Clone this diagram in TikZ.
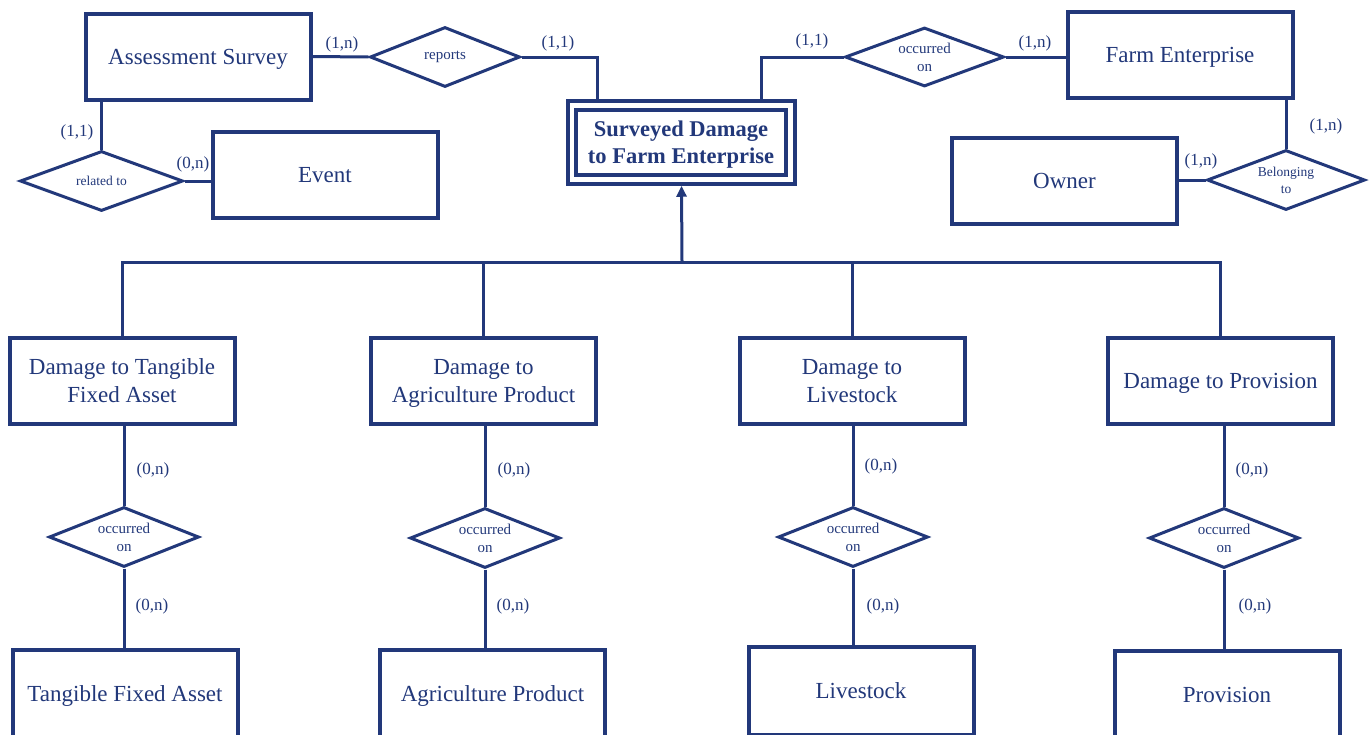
\documentclass[tikz,border=0pt]{standalone}
\usepackage{fontspec}
\setmainfont{Liberation Serif}
\usetikzlibrary{shapes.geometric,arrows.meta}
\definecolor{navy}{RGB}{34,56,122}
\tikzset{
  entity/.style={draw=navy, line width=4pt, text=navy, fill=white,
    minimum width=225pt, minimum height=86pt, inner sep=0pt, align=center,
    text depth=-3pt, font=\fontsize{23}{28}\selectfont},
  relation/.style={draw=navy, line width=3pt, text=navy, fill=white,
    shape=diamond, shape aspect=2.5, minimum width=150pt, minimum height=60pt,
    inner sep=0pt, align=center, font=\fontsize{15}{18}\selectfont},
  smallrelation/.style={relation, font=\fontsize{13.5}{17}\selectfont},
  link/.style={draw=navy, line width=3pt},
  card/.style={text=navy, inner sep=0pt, font=\fontsize{17}{20}\selectfont}
}
\begin{document}
\begin{tikzpicture}[x=1pt,y=-1pt]
\useasboundingbox (0,0) rectangle (1372,734);
\clip (0,0) rectangle (1372,734);

% upper entities
\node[entity] (as)  at (198,56.5) {Assessment Survey};
\node[entity] (ev)  at (325,174.5) {Event};
\node[entity] (fe)  at (1180,55) {Farm Enterprise};
\node[entity] (ow)  at (1064.5,181) {Owner};

% weak entity with double border
\node[draw=navy, line width=3.5pt, fill=white, minimum width=227pt,
      minimum height=83pt, inner sep=0pt] (sdfe) at (681.5,142.5) {};
\node[draw=navy, line width=4pt, minimum width=210pt, minimum height=65pt,
      inner sep=0pt, text=navy, align=center, text depth=-3pt,
      font=\fontsize{22.5}{27}\selectfont\bfseries] (sdfein) at (681,142.5)
      {Surveyed Damage\\to Farm Enterprise};

% upper relationships
\node[relation] (rep) at (445,57)  {reports};
\node[relation, minimum height=59pt, minimum width=159pt] (occ) at (924.5,57) {occurred\\on};
\node[smallrelation, minimum width=163pt] (rel) at (101.5,181) {related to};
\node[smallrelation, minimum width=158pt] (bel) at (1286,180) {Belonging\\to};

% upper links
\draw[link] (as.east) -- (rep.west);
\draw[link] (rep.east) -| ([xshift=-84.5pt]sdfe.north);
\draw[link] ([xshift=79.5pt]sdfe.north) |- (occ.west);
\draw[link] (occ.east) -- (fe.west |- occ.east);
\draw[link] (rel.north) -- (rel.north |- as.south);
\draw[link] (rel.east) -- (rel.east -| ev.west);
\draw[link] (bel.north) -- (bel.north |- fe.south);
\draw[link] (ow.east |- bel.west) -- (bel.west);

% upper cardinalities
\node[card] at (342,44) {(1,n)};
\node[card] at (558,43) {(1,1)};
\node[card] at (812,41) {(1,1)};
\node[card] at (1035,43) {(1,n)};
\node[card] at (77,132) {(1,1)};
\node[card] at (193,164) {(0,n)};
\node[card] at (1326,126) {(1,n)};
\node[card] at (1201,161) {(1,n)};

% specialised damages
\node[entity] (d1) at (122,381)  {Damage to Tangible\\Fixed Asset};
\node[entity] (d2) at (483.5,381) {Damage to\\Agriculture Product};
\node[entity] (d3) at (852,381)  {Damage to\\Livestock};
\node[entity] (d4) at (1220.5,381) {Damage to Provision};

% generalisation bus
\coordinate (bus) at (682,262);
\draw[link] (d1.north) -- (d1.north |- bus) -- (d4.north |- bus) -- (d4.north);
\draw[link] (d2.north) -- (d2.north |- bus);
\draw[link] (d3.north) -- (d3.north |- bus);
\draw[link, -{Triangle[length=11pt,width=10pt]}] (bus) -- (sdfe.south);

% lower relationships
\node[relation] (o1) at (124,537) {occurred\\on};
\node[relation] (o2) at (485,538) {occurred\\on};
\node[relation] (o3) at (853,537) {occurred\\on};
\node[relation] (o4) at (1224,538) {occurred\\on};

% lower entities
\node[entity, minimum height=88pt] (t1) at (125,694)  {Tangible Fixed Asset};
\node[entity, minimum height=88pt] (t2) at (492.5,694) {Agriculture Product};
\node[entity, minimum height=88pt] (t3) at (861,691)  {Livestock};
\node[entity, minimum height=88pt] (t4) at (1227,695) {Provision};

% lower links
\foreach \d/\o/\t in {d1/o1/t1, d2/o2/t2, d3/o3/t3, d4/o4/t4}{
  \draw[link] (\o.north) -- (\o.north |- \d.south);
  \draw[link] (\o.south) -- (\o.south |- \t.north);
}

% lower cardinalities
\node[card] at (153,470) {(0,n)};
\node[card] at (152,606) {(0,n)};
\node[card] at (514,470) {(0,n)};
\node[card] at (513,606) {(0,n)};
\node[card] at (881,466) {(0,n)};
\node[card] at (883,606) {(0,n)};
\node[card] at (1252,470) {(0,n)};
\node[card] at (1255,606) {(0,n)};
\end{tikzpicture}
\end{document}
